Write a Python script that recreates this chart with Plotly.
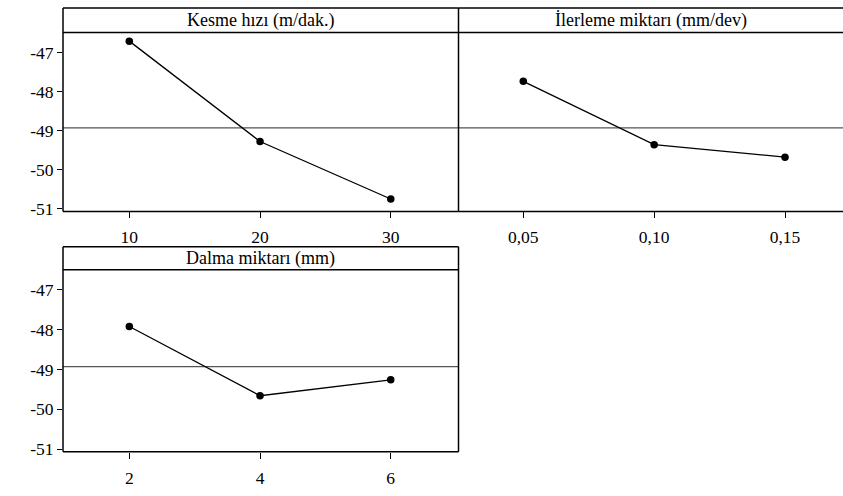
import plotly.graph_objects as go

# Data
titles = ["Kesme hızı (m/dak.)", "İlerleme miktarı (mm/dev)", "Dalma miktarı (mm)"]
x_kesme = [10, 20, 30]
y_kesme = [-46.71, -49.28, -50.75]
x_ilerleme = [0.05, 0.10, 0.15]
x_ilerleme_labels = ["0,05", "0,10", "0,15"]
y_ilerleme = [-47.74, -49.36, -49.68]
x_dalma = [2, 4, 6]
y_dalma = [-47.92, -49.66, -49.26]
y_ticks = [-47, -48, -49, -50, -51]
grand_mean = -48.93

W, H = 843, 496
FONT = "Liberation Serif"

def px(x):
    return x / W

def py(y):
    return 1 - y / H

# panel geometry (pixels)
left, mid, right = 63, 458.5, 843
top1, strip1, bot1 = 8, 33, 214.5
top2, strip2, bot2 = 250.3, 273.5, 458.3

fig = go.Figure()

def add_series(xs, ys, xa, ya):
    fig.add_trace(go.Scatter(
        x=xs, y=ys, xaxis=xa, yaxis=ya, mode="lines+markers",
        line=dict(color="black", width=1.3),
        marker=dict(color="black", size=7.5),
        showlegend=False, hoverinfo="skip"))

add_series(x_kesme, y_kesme, "x", "y")
add_series(x_ilerleme, y_ilerleme, "x2", "y2")
add_series(x_dalma, y_dalma, "x3", "y3")

yr = [-51.07, -46.49]
tickfont = dict(family=FONT, size=17.5, color="black")

common_x = dict(showgrid=False, zeroline=False, showline=False, ticks="outside",
                ticklen=6, tickwidth=1.3, tickcolor="black", tickfont=tickfont,
                ticklabelstandoff=4)
common_y = dict(showgrid=False, zeroline=False, showline=False, range=yr,
                tickvals=y_ticks, ticktext=[str(v) for v in y_ticks])

fig.update_layout(
    width=W, height=H, margin=dict(l=0, r=0, t=0, b=0),
    paper_bgcolor="white", plot_bgcolor="white",
    font=dict(family=FONT, color="black"),
    xaxis=dict(domain=[px(left), px(mid)], range=[4.93, 35.18],
               tickvals=x_kesme, ticktext=[str(v) for v in x_kesme], anchor="y", **common_x),
    yaxis=dict(domain=[py(bot1), py(strip1)], anchor="x", ticks="outside", ticklen=5,
               tickwidth=1.3, tickcolor="black", tickfont=tickfont, **common_y),
    xaxis2=dict(domain=[px(mid), 1.0], range=[0.02524, 0.17216],
                tickvals=x_ilerleme, ticktext=x_ilerleme_labels, anchor="y2", **common_x),
    yaxis2=dict(domain=[py(bot1), py(strip1)], anchor="x2", ticks="", showticklabels=False,
                **common_y),
    xaxis3=dict(domain=[px(left), px(mid)], range=[0.985, 7.037],
                tickvals=x_dalma, ticktext=[str(v) for v in x_dalma], anchor="y3", **common_x),
    yaxis3=dict(domain=[py(bot2), py(strip2)], anchor="x3", ticks="outside", ticklen=5,
                tickwidth=1.3, tickcolor="black", tickfont=tickfont, **common_y),
)

shapes = []
lw = 1.5
def line(x0, y0, x1, y1, color="black", width=lw):
    shapes.append(dict(type="line", xref="paper", yref="paper",
                       x0=px(x0), y0=py(y0), x1=px(x1), y1=py(y1),
                       line=dict(color=color, width=width)))

# Panel A frame
line(left, top1, mid, top1)
line(left, strip1, mid, strip1)
line(left, bot1, mid, bot1)
line(left, top1, left, bot1)
line(mid, top1, mid, bot1)
# Panel B frame (open on the right)
line(mid, top1, right, top1)
line(mid, strip1, right, strip1)
line(mid, bot1, right, bot1)
# Panel C frame
line(left, top2, mid, top2)
line(left, strip2, mid, strip2)
line(left, bot2, mid, bot2)
line(left, top2, left, bot2)
line(mid, top2, mid, bot2)

# mean lines
for xa, ya in [("x", "y"), ("x2", "y2"), ("x3", "y3")]:
    shapes.append(dict(type="line", xref=f"{xa} domain", yref=ya, x0=0, x1=1,
                       y0=grand_mean, y1=grand_mean,
                       line=dict(color="#555555", width=1.2), layer="below"))

fig.update_layout(shapes=shapes)

# strip titles
ann = []
for t, x0, x1, y0, y1 in [(titles[0], left, mid, top1, strip1),
                          (titles[1], mid, right, top1, strip1),
                          (titles[2], left, mid, top2, strip2)]:
    ann.append(dict(text=t, xref="paper", yref="paper", x=px((x0 + x1) / 2),
                    y=py((y0 + y1) / 2), showarrow=False, xanchor="center", yanchor="middle",
                    font=dict(family=FONT, size=18, color="black")))
fig.update_layout(annotations=ann)

fig.write_html("out.html")
